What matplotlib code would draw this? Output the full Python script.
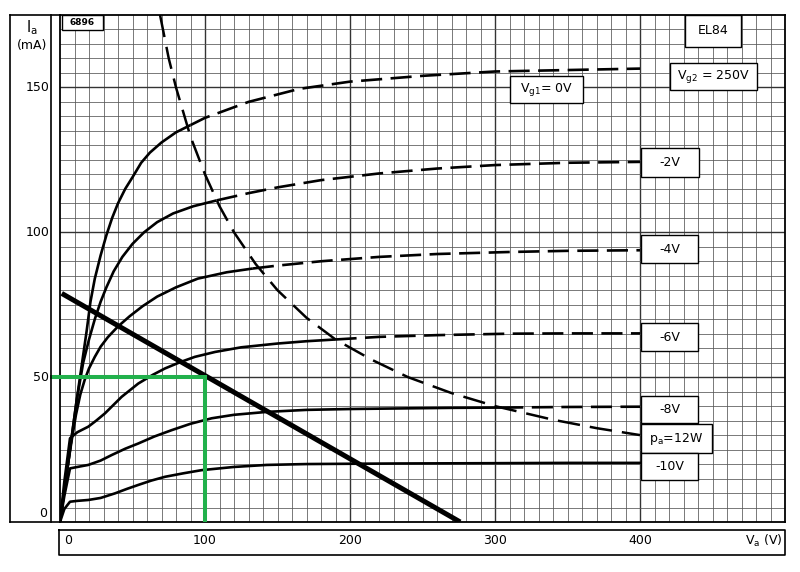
import numpy as np
import matplotlib
matplotlib.use('Agg')
import matplotlib.pyplot as plt
from matplotlib.patches import Rectangle
from matplotlib.lines import Line2D
import matplotlib.transforms as mtransforms

# EL84 anode characteristics, Vg2 = 250V  (Va in V, Ia in mA)
# solid part = left of the 12W dissipation curve, dashed part = right of it
g0_va = [0, 5, 11.5, 18.4, 21, 24, 28, 32, 36, 40, 45, 50, 56, 62, 70, 80, 90]
g0_ia = [0, 18, 42, 66, 76, 84, 92, 99, 105, 110, 115, 119, 124, 127.5, 131, 134.5, 137]
g0_va_d = [90, 100, 130, 165, 200, 250, 300, 350, 400]
g0_ia_d = [137, 139.5, 145, 149.5, 152, 154, 155.5, 156, 156.5]

g2_va = [0, 5, 11.5, 16, 20, 24, 28, 32, 37, 43, 50, 58, 67, 78, 92, 108]
g2_ia = [0, 18, 42, 55, 63, 70, 76, 81, 86.5, 91.5, 96, 100, 103.5, 106.5, 109, 111]
g2_va_d = [108, 130, 150, 180, 220, 260, 300, 350, 400]
g2_ia_d = [111, 113.5, 115.5, 118, 120.3, 122, 123.2, 124, 124.3]

g4_va = [0, 4, 8, 11, 14, 17, 20, 24, 28, 33, 40, 48, 57, 67, 80, 95, 115, 133]
g4_ia = [0, 15, 28, 37, 44, 49, 53, 57, 60.5, 63.8, 67.5, 71, 74.5, 77.8, 81, 84, 86.2, 87.5]
g4_va_d = [133, 150, 180, 220, 260, 310, 350, 400]
g4_ia_d = [87.5, 88.5, 90, 91.5, 92.5, 93.2, 93.6, 93.8]

g6_va = [0, 3, 6.9, 12, 19.5, 25, 31, 42.5, 54, 64, 72.4, 83, 93, 107, 125, 150, 170, 190]
g6_ia = [0, 14, 28.9, 31, 32.9, 35, 37.5, 43.2, 47.8, 50.8, 53, 55.2, 57, 58.7, 60.3, 61.6, 62.4, 63]
g6_va_d = [190, 220, 260, 310, 350, 400]
g6_ia_d = [63, 63.9, 64.5, 65, 65.1, 65.1]

g8_va = [0, 3, 6.9, 12, 19.5, 28, 35.6, 45, 54, 65, 77, 90, 104.6, 120, 142.5, 170, 200, 234, 270, 305]
g8_ia = [0, 9, 18.5, 19, 19.7, 21.2, 23.1, 25.3, 27.1, 29.5, 31.7, 33.9, 35.8, 37, 38, 38.7, 39, 39.2, 39.4, 39.5]
g8_va_d = [305, 350, 400]
g8_ia_d = [39.5, 39.7, 39.8]

g10_va = [0, 3, 6.9, 12, 19.5, 28, 38, 46, 54, 63, 72.4, 85, 97.7, 120, 142.5, 170, 200, 234, 300, 350, 400]
g10_ia = [0, 4.5, 7, 7.3, 7.6, 8.3, 9.9, 11.4, 12.8, 14.3, 15.6, 16.8, 17.9, 19, 19.7, 20, 20.1, 20.2, 20.3, 20.4, 20.4]

# pa = 12W curve
pa_va = [69, 75, 80, 90, 100, 110, 120, 135, 150, 170, 190, 215, 240, 270, 300, 340, 370, 400]
pa_ia = [175, 160, 150, 133, 120, 109, 100, 89, 80, 70.5, 63, 56, 50, 44.5, 40, 35.3, 32.4, 30]

# load line drawn on the sheet
load_va = [1.2, 276]
load_ia = [78.9, 0]

# green operating point marks
op_va = [-7, 100, 100]
op_ia = [50, 50, 0]

xticks = [0, 100, 200, 300, 400]
yticks = [0, 50, 100, 150]

W, H = 800, 572
fig = plt.figure(figsize=(8, 5.72), dpi=100)
ax = fig.add_axes([60 / W, 1 - 522 / H, 725 / W, 507 / H])
ax.set_xlim(0, 500)
ax.set_ylim(0, 175)
ax.set_xticks([])
ax.set_yticks([])
for s in ax.spines.values():
    s.set_linewidth(1.3)

# graph paper
for v in np.arange(10, 500, 10):
    major = v % 100 == 0
    ax.axvline(v, color='#333333' if major else '#555555', lw=1.0 if major else 0.55, zorder=1)
for i in np.arange(5, 175, 5):
    major = i % 50 == 0
    ax.axhline(i, color='#333333' if major else '#555555', lw=1.0 if major else 0.55, zorder=1)

lw = 1.9
dash = (0, (8, 3.2))
for va, ia, vad, iad in [(g0_va, g0_ia, g0_va_d, g0_ia_d),
                         (g2_va, g2_ia, g2_va_d, g2_ia_d),
                         (g4_va, g4_ia, g4_va_d, g4_ia_d),
                         (g6_va, g6_ia, g6_va_d, g6_ia_d),
                         (g8_va, g8_ia, g8_va_d, g8_ia_d)]:
    ax.plot(va, ia, color='black', lw=lw, solid_capstyle='butt', zorder=3)
    ax.plot(vad, iad, color='black', lw=lw, ls=dash, zorder=3)
ax.plot(g10_va, g10_ia, color='black', lw=lw, zorder=3)
ax.plot(pa_va, pa_ia, color='black', lw=1.8, ls=(0, (9, 4)), zorder=3)

ax.plot(load_va, load_ia, color='black', lw=3.6, solid_capstyle='butt', zorder=4)
ax.plot(op_va, op_ia, color='#22b14c', lw=2.9, solid_capstyle='butt',
        solid_joinstyle='miter', clip_on=False, zorder=5)

# boxed labels on the chart (V, I corners)
boxes = [
    ((1.4, 169.7), (29.7, 174.9), '6896', 6.5, 'bold'),
    ((431, 164.1), (470, 174.9), 'EL84', 9, 'normal'),
    ((420.7, 149.0), (480.7, 158.6), r'V$_{\mathregular{g2}}$ = 250V', 9, 'normal'),
    ((310.3, 144.5), (360.7, 153.8), r'V$_{\mathregular{g1}}$= 0V', 9, 'normal'),
    ((400.7, 119.0), (440.7, 129.0), '-2V', 9, 'normal'),
    ((400.7, 89.3), (440.0, 99.0), '-4V', 9, 'normal'),
    ((400.7, 59.0), (440.0, 68.6), '-6V', 9, 'normal'),
    ((400.7, 34.1), (440.0, 43.4), '-8V', 9, 'normal'),
    ((400.7, 23.8), (449.7, 33.8), r'p$_{\mathregular{a}}$=12W', 9, 'normal'),
    ((400.7, 14.5), (440.0, 23.8), '-10V', 9, 'normal'),
]
for (x0, y0), (x1, y1), txt, fs, fw in boxes:
    ax.add_patch(Rectangle((x0, y0), x1 - x0, y1 - y0, facecolor='white',
                           edgecolor='black', lw=1.0, zorder=6))
    ax.text((x0 + x1) / 2, (y0 + y1) / 2, txt, ha='center', va='center',
            fontsize=fs, fontweight=fw, zorder=7)

# tick labels
ty = mtransforms.blended_transform_factory(ax.transAxes, ax.transData)
for v in yticks:
    if v == 0:
        ax.text(-0.018, 3, '0', ha='right', va='center', fontsize=9, transform=ty)
    else:
        ax.text(-0.015, v, str(v), ha='right', va='center', fontsize=9, transform=ty)
tx = mtransforms.blended_transform_factory(ax.transData, ax.transAxes)
for v in xticks:
    if v == 0:
        ax.text(3, -0.037, '0', ha='left', va='center', fontsize=9, transform=tx)
    else:
        ax.text(v, -0.037, str(v), ha='center', va='center', fontsize=9, transform=tx)
fig.text(783 / W, 1 - 541 / H, r'V$_{\mathregular{a}}$ (V)', ha='right', va='center', fontsize=9)
fig.text(32 / W, 1 - 28 / H, r'I$_{\mathregular{a}}$', ha='center', va='center', fontsize=10.5)
fig.text(32 / W, 1 - 45 / H, '(mA)', ha='center', va='center', fontsize=9)


# frame around the axis labels (figure pixels)
def px_line(xs, ys, lw=1.2):
    fig.add_artist(Line2D([x / W for x in xs], [1 - y / H for y in ys],
                          color='black', lw=lw, transform=fig.transFigure))


px_line([10, 10], [15, 522])
px_line([51, 51], [15, 522])
px_line([10, 60], [15, 15])
px_line([10, 60], [522, 522])
px_line([59, 785, 785, 59, 59], [530, 530, 555, 555, 530])

fig.savefig('out.png', dpi=100)
